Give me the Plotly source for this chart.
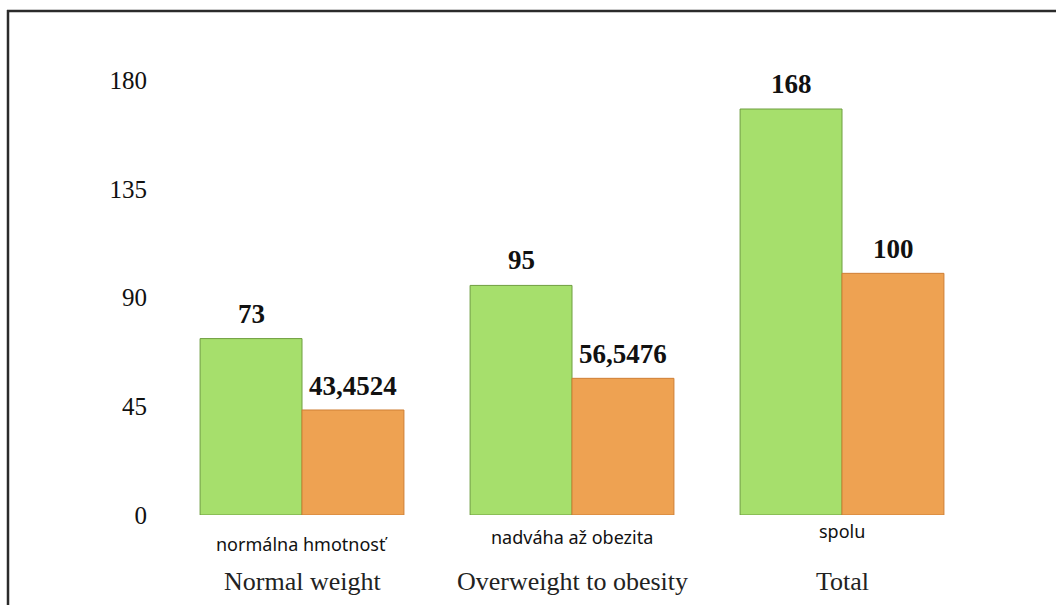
import plotly.graph_objects as go

# ---- data ----
categories = ["Normal weight", "Overweight to obesity", "Total"]
categories_sk = ["normálna hmotnosť", "nadváha až obezita", "spolu"]
counts = [73, 95, 168]
percents = [43.4524, 56.5476, 100]
count_labels = ["73", "95", "168"]
percent_labels = ["43,4524", "56,5476", "100"]
y_ticks = [0, 45, 90, 135, 180]

# ---- layout constants (pixels) ----
W, H = 1056, 605
x0_px, x1_px = 167, 977
y0_px, y1_px = 515, 80  # pixel rows of value 0 and 180
bar_px = 102
sk_label_px = [544, 537, 531]

GREEN = "#a6df6c"
ORANGE = "#eea252"
SERIF = "Liberation Serif, Times New Roman, serif"

fig = go.Figure()
fig.add_trace(go.Bar(x=categories, y=counts, name="count",
                     marker=dict(color=GREEN, line=dict(color="#6f9e40", width=1))))
fig.add_trace(go.Bar(x=categories, y=percents, name="%",
                     marker=dict(color=ORANGE, line=dict(color="#cf7f35", width=1))))

annotations = []
for i, c in enumerate(categories):
    annotations.append(dict(x=c, y=counts[i], xref="x", yref="y", text="<b>" + count_labels[i] + "</b>",
                            showarrow=False, xshift=-bar_px / 2, yshift=25,
                            font=dict(family=SERIF, size=27, color="#111"),
                            yanchor="middle"))
    annotations.append(dict(x=c, y=percents[i], xref="x", yref="y", text="<b>" + percent_labels[i] + "</b>",
                            showarrow=False, xshift=bar_px / 2, yshift=24,
                            font=dict(family=SERIF, size=27, color="#111"),
                            yanchor="middle"))
    annotations.append(dict(x=c, y=1 - sk_label_px[i] / H, xref="x", yref="paper",
                            text=categories_sk[i], showarrow=False,
                            font=dict(family="Noto Sans, Open Sans, sans-serif", size=18, color="#111"),
                            yanchor="middle"))
    annotations.append(dict(x=c, y=1 - 581 / H, xref="x", yref="paper",
                            text=c, showarrow=False,
                            font=dict(family=SERIF, size=26, color="#222"),
                            yanchor="middle"))

fig.update_layout(
    width=W, height=H,
    margin=dict(l=0, r=0, t=0, b=0),
    paper_bgcolor="white", plot_bgcolor="white",
    barmode="group", bargap=0.245, bargroupgap=0,
    showlegend=False,
    xaxis=dict(domain=[x0_px / W, x1_px / W], showticklabels=False, showgrid=False,
               zeroline=False, showline=False, automargin=False, fixedrange=True),
    yaxis=dict(domain=[1 - y0_px / H, 1 - y1_px / H], range=[0, 180],
               tickvals=y_ticks, ticktext=[str(v) for v in y_ticks],
               showgrid=False, zeroline=False, showline=False, automargin=False,
               tickfont=dict(family=SERIF, size=25, color="#111"),
               ticklabelstandoff=19),
    annotations=annotations,
    shapes=[
        dict(type="line", xref="paper", yref="paper", x0=7 / W, x1=1, y0=1 - 11 / H, y1=1 - 11 / H,
             line=dict(color="#2b2b2b", width=2.5)),
        dict(type="line", xref="paper", yref="paper", x0=8 / W, x1=8 / W, y0=1 - 10 / H, y1=0,
             line=dict(color="#2b2b2b", width=2.5)),
    ],
)

fig.write_html("out.html")
